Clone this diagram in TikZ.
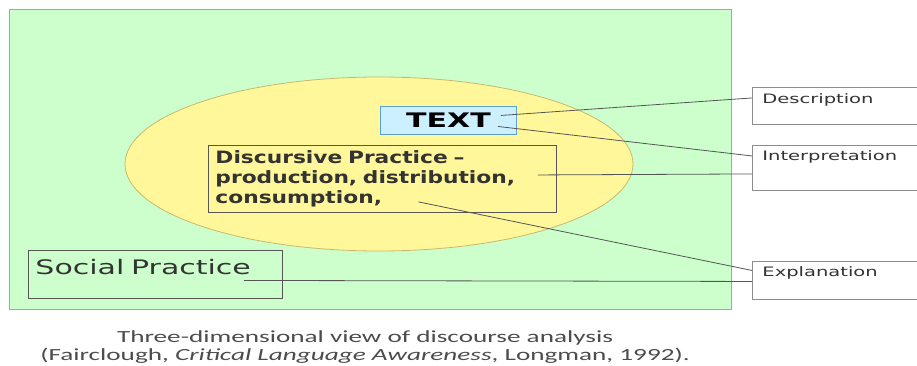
\documentclass[tikz,border=0pt]{standalone}
\usepackage{fontspec}
\setmainfont{DejaVu Sans}[FakeStretch=1.5]
\newfontfamily\discfont{DejaVu Sans}[FakeStretch=1.28,Ligatures=TeX]
\newfontfamily\capfont{Carlito}[FakeStretch=1.6,Ligatures=TeX]
\usetikzlibrary{positioning}
\definecolor{fieldgreen}{RGB}{204, 255, 204}
\definecolor{discyellow}{RGB}{255, 247, 153}
\definecolor{disclimb}{RGB}{200, 185, 110}
\definecolor{textblue}{RGB}{204, 240, 255}
\definecolor{textedge}{RGB}{90, 160, 210}
\definecolor{inkgray}{RGB}{85, 85, 85}
\tikzset{
  box/.style={draw=inkgray,line width=0.9pt,rectangle,align=left,anchor=north west,text=black!80},
  stage/.style={box,draw=black!45,inner xsep=10pt,inner ysep=4pt,text width=170pt,font=\fontsize{13}{15}\selectfont},
  link/.style={draw=inkgray,line width=0.8pt},
}

\begin{document}
\begin{tikzpicture}[x=1pt,y=-1pt]
        \clip (0,0) rectangle (917,366);
        \fill[white] (0,0) rectangle (917,366);

        % social practice field and the discourse ellipse
        \draw[fill=fieldgreen,draw=black!35,line width=0.8pt] (9,9) rectangle (731,309);
        \draw[fill=discyellow,draw=disclimb,line width=0.8pt] (379,164) ellipse [x radius=254, y radius=87];

        \node[box,draw=textedge,fill=textblue,minimum width=136,minimum height=28,inner sep=0pt,font=\fontsize{20}{22}\selectfont\bfseries,text=black,align=center] (txt) at (380,106) {TEXT};
        \node[box,text width=334pt,inner xsep=7pt,inner ysep=3pt,minimum height=67,font=\discfont\fontsize{17}{20}\selectfont\bfseries] (disc) at (208,145) {Discursive Practice –\\production, distribution,\\consumption,};
        \node[box,text width=240pt,inner xsep=7pt,inner ysep=4pt,text height=20pt,text depth=20pt,font=\fontsize{20}{22}\selectfont] (soc) at (28,250) {Social Practice};

        % the three dimensions of analysis
        \node[stage,text height=12pt,text depth=17pt] (desc) at (752,87) {Description};
        \node[stage,text height=11pt,text depth=26pt] (interp) at (752,145) {Interpretation};
        \node[stage,text height=11pt,text depth=19pt] (expl) at (752,261) {Explanation};

        \draw[link] ([xshift=-16pt,yshift=5pt]txt.east) -- ([yshift=8pt]desc.west);
        \draw[link] ([xshift=-19pt,yshift=-6pt]txt.east) -- ([yshift=12pt]interp.west);
        \draw[link] ([xshift=-19pt,yshift=4pt]disc.east) -- ([yshift=-6pt]interp.west);
        \draw[link] ([xshift=36pt,yshift=11pt]disc.south) -- ([yshift=10pt]expl.west);
        \draw[link] ([xshift=-39pt,yshift=-6pt]soc.east) -- ([yshift=-1pt]expl.west);

        \node[align=center,text=black!70,font=\capfont\fontsize{17}{18}\selectfont] (cap) at (365,347) {Three-dimensional view of discourse analysis\\(Fairclough, \textit{Critical Language Awareness}, Longman, 1992).};
    \end{tikzpicture}
\end{document}
